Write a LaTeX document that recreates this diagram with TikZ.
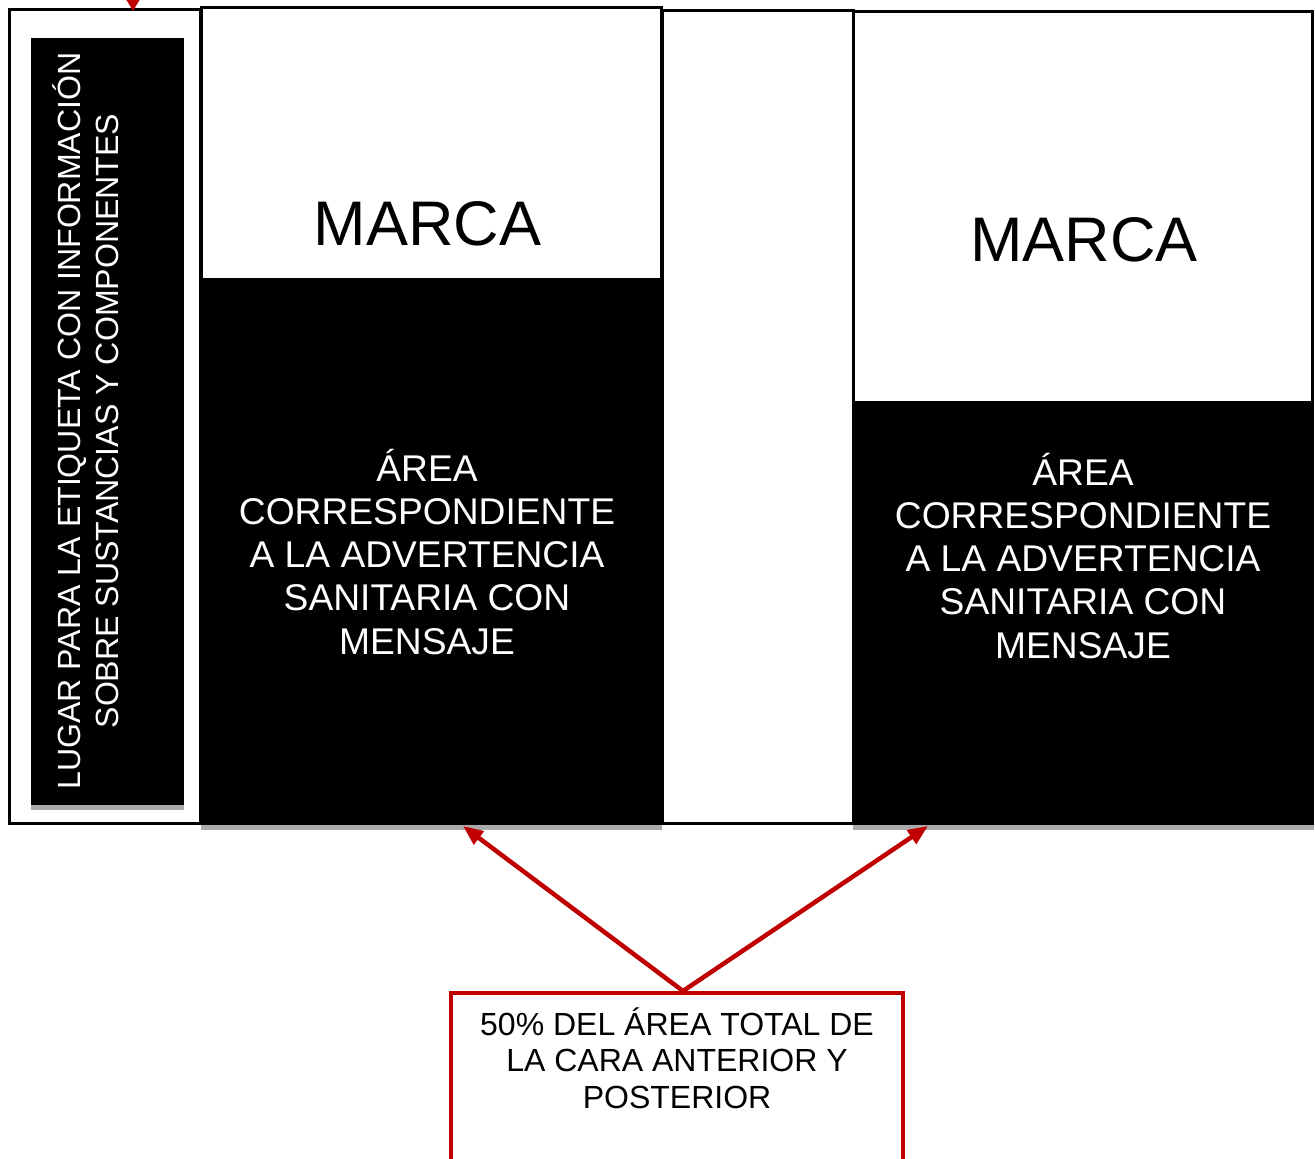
\documentclass[tikz,border=0pt]{standalone}
\usepackage{fontspec}
\setmainfont{Liberation Sans}
\usetikzlibrary{arrows.meta}
\definecolor{rojo}{HTML}{C00000}
\definecolor{sombra}{HTML}{AAAAAA}
\begin{document}
\begin{tikzpicture}[x=1pt,y=-1pt,
  box/.style={rectangle, inner sep=0pt, outer sep=0pt},
  outlinebox/.style={box, draw=black, line width=3pt, fill=white},
  blackpanel/.style={box, fill=black, preaction={fill=sombra, transform canvas={yshift=-5pt}}},
  notebox/.style={box, draw=rojo, line width=4pt, fill=white},
  brandtext/.style={inner sep=0pt, anchor=base, font=\fontsize{63}{70}\selectfont},
  warntext/.style={inner sep=0pt, anchor=base, align=center, text=white, font=\fontsize{37.2}{43.2}\selectfont},
  sidetext/.style={inner sep=0pt, anchor=base, align=center, text=white, rotate=90, font=\fontsize{32.1}{37.5}\selectfont},
  notetext/.style={inner sep=0pt, anchor=base, align=center, font=\fontsize{32}{36.5}\selectfont},
  redarrow/.style={draw=rojo, line width=4.5pt, -{Triangle[length=20pt,width=16pt]}},
  toparrow/.style={draw=rojo, line width=4.5pt, -{Triangle[length=16pt,width=18pt]}}
]
\useasboundingbox (0,0) rectangle (1315,1159);
\clip (0,0) rectangle (1315,1159);
\fill[white] (0,0) rectangle (1315,1159);

% left side panel
\node[outlinebox, minimum width=191pt, minimum height=814pt] (leftbox) at (105,416.5) {};
\node[blackpanel, minimum width=153pt, minimum height=767pt] (leftlabel) at (107.5,421.5) {};
\node[sidetext] (sidelabel) at (118,421) {LUGAR PARA LA ETIQUETA CON INFORMACIÓN\\SOBRE SUSTANCIAS Y COMPONENTES};

% gap panel
\node[outlinebox, minimum width=191.5pt, minimum height=813pt] (gap) at (757.75,417) {};

% front face
\node[blackpanel, minimum width=461pt, minimum height=546pt] (warn1) at (431.5,552) {};
\node[outlinebox, minimum width=460pt, minimum height=272pt] (brand1) at (431.5,143) {};
\node[brandtext] (marca1) at (427.5,245) {MARCA};
\node[warntext] (warntext1) at (427,654) {ÁREA\\CORRESPONDIENTE\\A LA ADVERTENCIA\\SANITARIA CON\\MENSAJE};

% back face
\node[blackpanel, minimum width=461pt, minimum height=423pt] (warn2) at (1083.5,613.5) {};
\node[outlinebox, minimum width=459pt, minimum height=390.5pt] (brand2) at (1083,206.75) {};
\node[brandtext] (marca2) at (1084,261) {MARCA};
\node[warntext] (warntext2) at (1083,658) {ÁREA\\CORRESPONDIENTE\\A LA ADVERTENCIA\\SANITARIA CON\\MENSAJE};

% note box
\node[notebox, minimum width=451.5pt, minimum height=187pt] (note) at (676.75,1086.5) {};
\node[notetext] (notelabel) at (677,1108) {50\% DEL ÁREA TOTAL DE\\LA CARA ANTERIOR Y\\POSTERIOR};

% connectors
\coordinate (apex) at (683,991);
\coordinate (tip1) at (463,826);
\coordinate (tip2) at (928,826);
\coordinate (topstart) at (133,-40);
\coordinate (topend) at (133,11);
\draw[redarrow] (apex) -- (tip1);
\draw[redarrow] (apex) -- (tip2);
\draw[toparrow] (topstart) -- (topend);
\end{tikzpicture}
\end{document}
